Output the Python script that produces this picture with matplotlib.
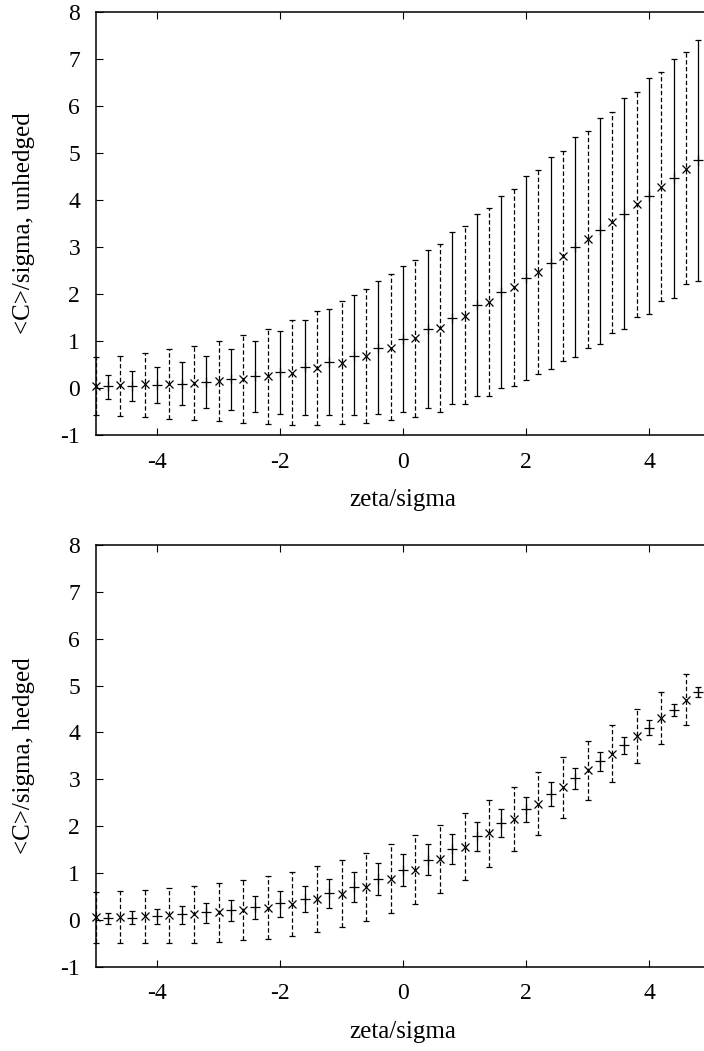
import matplotlib
matplotlib.use('Agg')
import matplotlib.pyplot as plt

plt.rcParams['font.family'] = ['Liberation Serif', 'DejaVu Serif']
plt.rcParams['axes.unicode_minus'] = False

# x positions of the two interleaved series
x_cross = [-5.0, -4.6, -4.2, -3.8, -3.4, -3.0, -2.6, -2.2, -1.8, -1.4, -1.0, -0.6, -0.2,
           0.2, 0.6, 1.0, 1.4, 1.8, 2.2, 2.6, 3.0, 3.4, 3.8, 4.2, 4.6]
x_plus = [-4.8, -4.4, -4.0, -3.6, -3.2, -2.8, -2.4, -2.0, -1.6, -1.2, -0.8, -0.4, 0.0,
          0.4, 0.8, 1.2, 1.6, 2.0, 2.4, 2.8, 3.2, 3.6, 4.0, 4.4, 4.8]

# unhedged panel
unh_cross_y = [0.04, 0.06, 0.075, 0.09, 0.11, 0.145, 0.20, 0.25, 0.32, 0.42, 0.54, 0.68, 0.86,
               1.06, 1.28, 1.54, 1.83, 2.14, 2.46, 2.80, 3.17, 3.53, 3.91, 4.28, 4.67]
unh_cross_lo = [-0.57, -0.59, -0.62, -0.65, -0.68, -0.71, -0.74, -0.77, -0.78, -0.78, -0.77, -0.74, -0.69,
                -0.61, -0.50, -0.35, -0.17, 0.04, 0.29, 0.57, 0.85, 1.17, 1.51, 1.85, 2.21]
unh_cross_hi = [0.66, 0.69, 0.75, 0.83, 0.90, 1.01, 1.12, 1.26, 1.44, 1.63, 1.85, 2.11, 2.42,
                2.72, 3.07, 3.44, 3.83, 4.23, 4.64, 5.05, 5.47, 5.88, 6.30, 6.73, 7.14]
unh_plus_y = [0.04, 0.05, 0.07, 0.09, 0.13, 0.19, 0.26, 0.34, 0.44, 0.55, 0.69, 0.86, 1.05,
              1.26, 1.50, 1.76, 2.04, 2.35, 2.66, 3.00, 3.36, 3.71, 4.08, 4.46, 4.85]
unh_plus_lo = [-0.23, -0.28, -0.32, -0.37, -0.42, -0.47, -0.52, -0.55, -0.57, -0.58, -0.57, -0.55, -0.51,
               -0.42, -0.33, -0.18, -0.01, 0.18, 0.41, 0.67, 0.94, 1.25, 1.58, 1.91, 2.27]
unh_plus_hi = [0.28, 0.36, 0.45, 0.56, 0.69, 0.84, 1.01, 1.22, 1.44, 1.68, 1.97, 2.27, 2.60,
               2.94, 3.32, 3.70, 4.09, 4.51, 4.92, 5.34, 5.75, 6.17, 6.59, 7.00, 7.41]

# hedged panel
hed_cross_y = [0.06, 0.07, 0.09, 0.11, 0.13, 0.16, 0.21, 0.26, 0.34, 0.44, 0.56, 0.70, 0.87,
               1.07, 1.30, 1.56, 1.85, 2.16, 2.48, 2.83, 3.19, 3.55, 3.93, 4.30, 4.70]
hed_cross_lo = [-0.49, -0.49, -0.49, -0.49, -0.49, -0.47, -0.44, -0.41, -0.34, -0.26, -0.16, -0.02, 0.14,
                0.34, 0.58, 0.84, 1.13, 1.46, 1.81, 2.18, 2.56, 2.95, 3.34, 3.75, 4.15]
hed_cross_hi = [0.59, 0.61, 0.64, 0.69, 0.73, 0.79, 0.86, 0.93, 1.03, 1.14, 1.27, 1.43, 1.61,
                1.81, 2.03, 2.28, 2.55, 2.84, 3.15, 3.48, 3.81, 4.16, 4.50, 4.87, 5.24]
hed_plus_y = [0.03, 0.05, 0.09, 0.12, 0.16, 0.21, 0.27, 0.36, 0.45, 0.57, 0.71, 0.88, 1.06,
              1.28, 1.51, 1.78, 2.06, 2.37, 2.69, 3.02, 3.38, 3.73, 4.10, 4.48, 4.87]
hed_plus_lo = [-0.09, -0.09, -0.08, -0.08, -0.06, -0.03, 0.01, 0.07, 0.16, 0.26, 0.39, 0.54, 0.73,
               0.95, 1.20, 1.46, 1.76, 2.08, 2.43, 2.79, 3.17, 3.55, 3.95, 4.34, 4.75]
hed_plus_hi = [0.14, 0.18, 0.24, 0.29, 0.36, 0.43, 0.51, 0.62, 0.73, 0.88, 1.03, 1.21, 1.40,
               1.61, 1.84, 2.08, 2.36, 2.63, 2.94, 3.24, 3.58, 3.90, 4.26, 4.61, 4.98]

yticks = [-1, 0, 1, 2, 3, 4, 5, 6, 7, 8]
xticks = [-4, -2, 0, 2, 4]

W, H = 704, 1051
TICK_FS = 17
LABEL_FS = 18


def draw_panel(ax, cy, clo, chi, py, plo, phi, ylabel):
    # solid bars with '+'
    ax.errorbar(x_plus, py, yerr=[[a - b for a, b in zip(py, plo)], [b - a for a, b in zip(py, phi)]],
                fmt='+', color='black', ms=7, mew=0.9, elinewidth=0.9, capsize=2.5, capthick=0.9,
                clip_on=False)
    # dashed bars with 'x'
    eb = ax.errorbar(x_cross, cy, yerr=[[a - b for a, b in zip(cy, clo)], [b - a for a, b in zip(cy, chi)]],
                     fmt='x', color='black', ms=6, mew=0.9, elinewidth=0.9, capsize=2.5, capthick=0.9,
                     clip_on=False)
    for lc in eb[2]:
        lc.set_linestyle((0, (3.5, 2.0)))

    ax.set_xlim(-5, -5 + (W - 95.5) / 61.5)
    ax.set_ylim(-1, 8)
    ax.set_xticks(xticks)
    ax.set_yticks(yticks)
    ax.spines['right'].set_visible(False)
    for s in ['left', 'top', 'bottom']:
        ax.spines[s].set_linewidth(1.1)
    ax.tick_params(axis='x', direction='in', length=5, width=0.8, top=True, labelsize=TICK_FS, pad=12)
    ax.tick_params(axis='y', direction='in', length=5, width=0.8, right=False, labelsize=TICK_FS, pad=11)
    ax.text(0, -65 / 422, 'zeta/sigma', transform=ax.get_xaxis_transform(),
            ha='center', va='center', fontsize=LABEL_FS)
    ax.text((24 - 95.5) / (W - 95.5), 0.5, ylabel, transform=ax.transAxes, rotation=90,
            ha='center', va='center', fontsize=LABEL_FS)


fig = plt.figure(figsize=(W / 100, H / 100), dpi=100)
left = 95.5 / W
ax1 = fig.add_axes([left, 1 - 435 / H, 1 - left, (435 - 12) / H])
ax2 = fig.add_axes([left, 1 - 966.7 / H, 1 - left, (966.7 - 545) / H])

draw_panel(ax1, unh_cross_y, unh_cross_lo, unh_cross_hi, unh_plus_y, unh_plus_lo, unh_plus_hi,
           '<C>/sigma, unhedged')
draw_panel(ax2, hed_cross_y, hed_cross_lo, hed_cross_hi, hed_plus_y, hed_plus_lo, hed_plus_hi,
           '<C>/sigma, hedged')

fig.savefig('out.png', dpi=100)
